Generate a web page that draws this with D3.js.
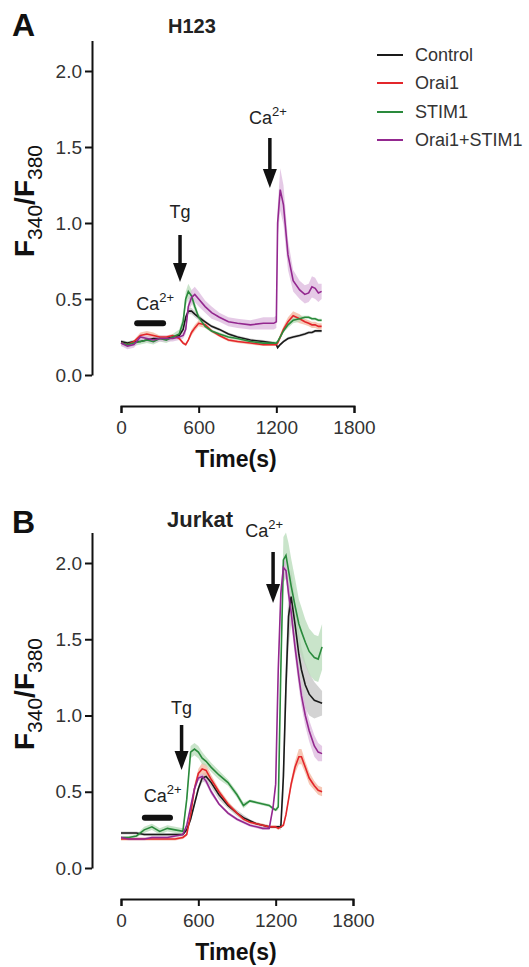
<!DOCTYPE html>
<html>
<head>
<meta charset="utf-8">
<script src="https://cdn.jsdelivr.net/npm/d3@7"></script>
<style>
  body { margin: 0; background: #fff; }
  svg { font-family: "Liberation Sans", Arial, sans-serif; }
</style>
</head>
<body>
<div id="chart"></div>
<script>
// ---- data: panel A (H123) ----
var tA = [0, 50, 100, 150, 200, 250, 300, 350, 400, 450,
          480, 500, 520, 545, 570, 600, 650, 700, 760, 830,
          900, 1000, 1100, 1180, 1200, 1210, 1230, 1255, 1290, 1330,
          1380, 1420, 1450, 1475, 1500, 1525, 1550];
var controlA = [0.22,0.21,0.22,0.22,0.23,0.24,0.24,0.24,0.25,0.26, 0.30,0.38,0.42,0.42,0.40,0.38,0.35,0.32,0.30,0.27, 0.25,0.23,0.22,0.21,0.20,0.18,0.20,0.22,0.24,0.25, 0.26,0.27,0.28,0.28,0.29,0.29,0.29];
var orai1A = [0.21,0.20,0.22,0.26,0.27,0.26,0.25,0.25,0.26,0.24, 0.21,0.20,0.23,0.28,0.31,0.34,0.33,0.29,0.26,0.23, 0.22,0.21,0.20,0.20,0.20,0.21,0.25,0.30,0.35,0.39, 0.37,0.35,0.34,0.33,0.33,0.32,0.32];
var stim1A = [0.21,0.20,0.21,0.22,0.23,0.22,0.24,0.23,0.25,0.27, 0.35,0.50,0.55,0.52,0.45,0.38,0.32,0.29,0.27,0.25, 0.24,0.22,0.21,0.21,0.21,0.22,0.25,0.29,0.33,0.36, 0.37,0.38,0.38,0.37,0.37,0.36,0.36];
var bothA = [0.21,0.19,0.20,0.25,0.24,0.23,0.24,0.24,0.24,0.25, 0.26,0.30,0.45,0.51,0.53,0.50,0.45,0.41,0.38,0.35, 0.34,0.33,0.34,0.34,0.35,1.00,1.22,1.12,0.79,0.62, 0.56,0.53,0.54,0.58,0.57,0.54,0.55];
var semControlA = [0.01,0.01,0.01,0.01,0.01,0.01,0.01,0.01,0.01,0.01, 0.02,0.02,0.02,0.02,0.02,0.02,0.01,0.01,0.01,0.01, 0.01,0.01,0.01,0.01,0.01,0.01,0.01,0.01,0.01,0.01, 0.01,0.01,0.01,0.01,0.01,0.01,0.01];
var semOrai1A = [0.01,0.01,0.01,0.02,0.02,0.02,0.01,0.01,0.01,0.01, 0.01,0.01,0.01,0.02,0.02,0.02,0.02,0.01,0.01,0.01, 0.01,0.01,0.01,0.01,0.01,0.01,0.02,0.02,0.03,0.03, 0.03,0.02,0.02,0.02,0.02,0.02,0.02];
var semStim1A = [0.02,0.02,0.02,0.02,0.02,0.02,0.02,0.02,0.02,0.03, 0.04,0.05,0.05,0.04,0.03,0.02,0.01,0.01,0.01,0.01, 0.01,0.01,0.01,0.01,0.01,0.01,0.01,0.01,0.02,0.02, 0.02,0.01,0.01,0.01,0.01,0.01,0.01];
var semBothA = [0.02,0.02,0.02,0.02,0.02,0.02,0.02,0.02,0.02,0.02, 0.02,0.03,0.04,0.05,0.05,0.05,0.04,0.04,0.03,0.03, 0.03,0.03,0.04,0.04,0.04,0.10,0.14,0.13,0.10,0.07, 0.06,0.06,0.06,0.07,0.07,0.06,0.05];

// ---- data: panel B (Jurkat) ----
var tB = [0, 60, 120, 180, 240, 300, 360, 420, 480, 510,
          540, 570, 600, 630, 660, 700, 760, 830, 900, 950,
          1000, 1050, 1100, 1150, 1180, 1200, 1220, 1240, 1260, 1280,
          1300, 1320, 1350, 1380, 1400, 1430, 1460, 1500, 1530, 1560];
var controlB = [0.23,0.23,0.23,0.22,0.22,0.22,0.22,0.22,0.22,0.25, 0.32,0.42,0.52,0.59,0.60,0.56,0.48,0.41,0.36,0.33, 0.31,0.29,0.28,0.27,0.27,0.27,0.27,0.27,0.60,1.20, 1.65,1.78,1.60,1.40,1.30,1.20,1.14,1.10,1.09,1.08];
var orai1B = [0.19,0.19,0.19,0.19,0.19,0.19,0.19,0.19,0.20,0.22, 0.35,0.52,0.62,0.65,0.64,0.58,0.50,0.42,0.36,0.32, 0.30,0.29,0.28,0.27,0.27,0.27,0.26,0.27,0.28,0.35, 0.45,0.55,0.66,0.73,0.73,0.66,0.59,0.54,0.51,0.50];
var stim1B = [0.20,0.20,0.21,0.25,0.27,0.24,0.26,0.25,0.24,0.45, 0.76,0.78,0.76,0.72,0.70,0.66,0.61,0.56,0.48,0.41, 0.44,0.43,0.42,0.41,0.39,0.38,0.40,1.30,2.02,2.05, 1.95,1.85,1.72,1.60,1.55,1.48,1.42,1.38,1.37,1.45];
var bothB = [0.20,0.19,0.19,0.19,0.20,0.20,0.20,0.21,0.22,0.28, 0.40,0.52,0.59,0.60,0.57,0.50,0.42,0.36,0.32,0.30, 0.28,0.27,0.26,0.26,0.40,0.55,1.30,1.80,1.97,1.95, 1.80,1.68,1.45,1.25,1.13,1.00,0.90,0.80,0.76,0.75];
var semControlB = [0.01,0.01,0.01,0.01,0.01,0.01,0.01,0.01,0.01,0.01, 0.02,0.02,0.02,0.03,0.03,0.03,0.03,0.02,0.02,0.02, 0.01,0.01,0.01,0.01,0.01,0.01,0.01,0.02,0.15,0.20, 0.20,0.18,0.16,0.15,0.15,0.15,0.14,0.12,0.10,0.08];
var semOrai1B = [0.01,0.01,0.01,0.01,0.01,0.01,0.01,0.01,0.01,0.01, 0.02,0.03,0.03,0.04,0.04,0.03,0.02,0.02,0.01,0.01, 0.01,0.01,0.01,0.01,0.01,0.01,0.01,0.01,0.01,0.02, 0.02,0.03,0.04,0.05,0.05,0.04,0.04,0.03,0.03,0.03];
var semStim1B = [0.01,0.01,0.01,0.02,0.02,0.02,0.02,0.02,0.02,0.03, 0.04,0.04,0.04,0.04,0.03,0.03,0.03,0.02,0.02,0.02, 0.01,0.01,0.01,0.01,0.01,0.01,0.02,0.10,0.15,0.15, 0.18,0.18,0.18,0.16,0.16,0.15,0.15,0.15,0.15,0.15];
var semBothB = [0.01,0.01,0.01,0.01,0.01,0.01,0.01,0.01,0.01,0.01, 0.01,0.02,0.02,0.02,0.02,0.02,0.01,0.01,0.01,0.01, 0.01,0.01,0.01,0.01,0.02,0.03,0.05,0.06,0.06,0.06, 0.07,0.07,0.07,0.07,0.07,0.07,0.07,0.07,0.06,0.05];

// ticks, legend, annotations (times in s)
var xTicks = [0, 600, 1200, 1800];
var yTicks = [0, 0.5, 1.0, 1.5, 2.0];
var seriesNames = ["Control", "Orai1", "STIM1", "Orai1+STIM1"];
var lineColors = ["#1a1a1a", "#e3262b", "#2a8a3c", "#93288f"];
var bandColors = ["#c4c4c4", "#f3b49c", "#b7dbb8", "#dcb8de"];
var caBarA = [125, 325], caBarB = [185, 380];
var tgTimeA = 456, tgTimeB = 470;
var caAddA = 1150, caAddB = 1180;

var width = 529, height = 967;
var svg = d3.select("#chart").append("svg").attr("width", width).attr("height", height);

function drawPanel(p) {
    var x = d3.scaleLinear().domain([0, 1800]).range([121, p.xRight]);
    var y = d3.scaleLinear().domain([0, 2.2]).range([p.yZero, p.yZero - 2.2 * p.perUnit]);
    var g = svg.append("g");

    // error bands
    p.series.forEach(function(s, i) {
        var pts = p.t.map(function(t, j) { return {t: t, v: s[j], e: p.sem[i][j]}; });
        var area = d3.area()
            .x(function(d) { return x(d.t); })
            .y0(function(d) { return y(d.v - d.e); })
            .y1(function(d) { return y(d.v + d.e); });
        g.append("path").datum(pts).attr("d", area)
            .attr("fill", bandColors[i]).attr("opacity", 0.75);
    });
    // mean lines
    p.series.forEach(function(s, i) {
        var pts = p.t.map(function(t, j) { return {t: t, v: s[j]}; });
        var line = d3.line().x(function(d) { return x(d.t); }).y(function(d) { return y(d.v); });
        g.append("path").datum(pts).attr("d", line)
            .attr("fill", "none").attr("stroke", lineColors[i]).attr("stroke-width", 1.6);
    });

    // y axis
    var ya = g.append("g").attr("transform", "translate(92,0)")
        .call(d3.axisLeft(y).tickValues(yTicks).tickFormat(d3.format(".1f"))
              .tickSize(7).tickSizeOuter(0).tickPadding(3));
    // x axis
    var xa = g.append("g").attr("transform", "translate(0," + p.xAxisY + ")")
        .call(d3.axisBottom(x).tickValues(xTicks).tickFormat(d3.format("d"))
              .tickSize(7).tickSizeOuter(7).tickPadding(8));
    [ya, xa].forEach(function(a) {
        a.selectAll("path, line").attr("stroke", "#111").attr("stroke-width", 2);
        a.selectAll("text").attr("font-size", 19).attr("fill", "#333")
            .attr("font-family", "'Liberation Sans', Arial, sans-serif");
    });

    g.append("text").attr("x", 236).attr("y", p.xAxisY + 61).attr("text-anchor", "middle")
        .attr("font-size", 23).attr("font-weight", "bold").attr("fill", "#111").text("Time(s)");

    // y title F340/F380
    var yt = g.append("text").attr("transform", "translate(34," + p.titleY + ") rotate(-90)")
        .attr("text-anchor", "middle").attr("fill", "#111");
    yt.append("tspan").attr("font-size", 28).attr("font-weight", "bold").text("F");
    yt.append("tspan").attr("font-size", 21).attr("dy", 8).text("340");
    yt.append("tspan").attr("font-size", 28).attr("font-weight", "bold").attr("dy", -8).text("/F");
    yt.append("tspan").attr("font-size", 21).attr("dy", 8).text("380");

    // panel letter and cell line
    g.append("text").attr("x", 12).attr("y", p.letterY).attr("font-size", 32)
        .attr("font-weight", "bold").attr("fill", "#111").text(p.letter);
    g.append("text").attr("x", p.cellX).attr("y", p.cellY).attr("font-size", p.cellSize)
        .attr("font-weight", "bold").attr("fill", "#222").text(p.cell);

    // Ca2+ bar (pre-Tg)
    g.append("line").attr("x1", x(p.caBar[0])).attr("x2", x(p.caBar[1]))
        .attr("y1", y(p.caBarV)).attr("y2", y(p.caBarV))
        .attr("stroke", "#111").attr("stroke-width", 6).attr("stroke-linecap", "round");
    caLabel(g, x(p.caBar[0]) - 1, p.caTextY, "start");

    // Tg arrow
    g.append("text").attr("x", x(p.tg)).attr("y", p.tgTextY).attr("text-anchor", "middle")
        .attr("font-size", 18).attr("fill", "#222").text("Tg");
    arrow(g, x(p.tg), p.tgArrow[0], p.tgArrow[1]);

    // Ca2+ re-addition arrow
    caLabel(g, x(p.caAdd) + p.caAddDx, p.caAddTextY, "middle");
    arrow(g, x(p.caAdd), p.caArrow[0], p.caArrow[1]);
}

function caLabel(g, xx, yy, anchor) {
    var t = g.append("text").attr("x", xx).attr("y", yy).attr("text-anchor", anchor)
        .attr("font-size", 18).attr("fill", "#222");
    t.append("tspan").text("Ca");
    t.append("tspan").attr("font-size", 13).attr("dy", -8).text("2+");
}

function arrow(g, xx, y0, y1) {
    g.append("line").attr("x1", xx).attr("x2", xx).attr("y1", y0).attr("y2", y1 - 16)
        .attr("stroke", "#111").attr("stroke-width", 3.5);
    g.append("path").attr("d", "M" + (xx - 7) + "," + (y1 - 19) + "L" + (xx + 7) + "," + (y1 - 19) + "L" + xx + "," + y1 + "Z")
        .attr("fill", "#111");
}

drawPanel({
    t: tA, series: [controlA, orai1A, stim1A, bothA],
    sem: [semControlA, semOrai1A, semStim1A, semBothA],
    xRight: 354, yZero: 375, perUnit: 152, xAxisY: 406, titleY: 201,
    letter: "A", letterY: 36, cell: "H123", cellX: 168, cellY: 33, cellSize: 20,
    caBar: caBarA, caBarV: 0.34, caTextY: 310,
    tg: tgTimeA, tgTextY: 218, tgArrow: [235, 282],
    caAdd: caAddA, caAddDx: -2, caAddTextY: 124, caArrow: [138, 188]
});
drawPanel({
    t: tB, series: [controlB, orai1B, stim1B, bothB],
    sem: [semControlB, semOrai1B, semStim1B, semBothB],
    xRight: 353, yZero: 868, perUnit: 152.5, xAxisY: 899, titleY: 694,
    letter: "B", letterY: 533, cell: "Jurkat", cellX: 167, cellY: 527, cellSize: 22,
    caBar: caBarB, caBarV: 0.33, caTextY: 802,
    tg: tgTimeB, tgTextY: 714, tgArrow: [725, 770],
    caAdd: caAddB, caAddDx: -9, caAddTextY: 537, caArrow: [552, 603]
});

// legend (panel A)
var legendY = [55, 83, 112, 140];
var legend = svg.append("g");
seriesNames.forEach(function(name, i) {
    legend.append("line").attr("x1", 377).attr("x2", 403).attr("y1", legendY[i]).attr("y2", legendY[i])
        .attr("stroke", lineColors[i]).attr("stroke-width", 2);
    legend.append("text").attr("x", 415).attr("y", legendY[i] + 6).attr("font-size", 18)
        .attr("fill", "#333").text(name);
});
</script>
</body>
</html>
